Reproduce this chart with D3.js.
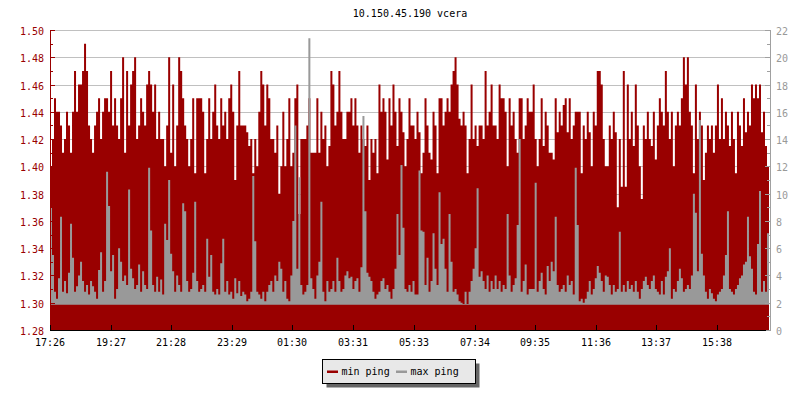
<!DOCTYPE html>
<html><head><meta charset="utf-8">
<script src="https://cdn.jsdelivr.net/npm/d3@7"></script>
<style>
body{margin:0;background:#fff}
svg{display:block}
text{font-family:"DejaVu Sans Mono","Liberation Mono",monospace;font-size:10px}
</style>
</head><body>
<svg id="chart" width="800" height="400"></svg>
<script>
// ---------------- data ----------------
const title = "10.150.45.190 vcera";
const startLabel = "17:26";
const stepMinutes = 4;
const timeLabels = ["17:26","19:27","21:28","23:29","01:30","03:31","05:33","07:34","09:35","11:36","13:37","15:38"];
const leftTicks = [1.28,1.30,1.32,1.34,1.36,1.38,1.40,1.42,1.44,1.46,1.48,1.50];
const rightTicks = [0,2,4,6,8,10,12,14,16,18,20,22];
const seriesNames = ["min ping","max ping"];

const minPing = [
1.40,1.42,1.45,1.44,1.44,1.43,1.41,1.42,1.44,1.43,
1.41,1.44,1.47,1.44,1.46,1.46,1.47,1.49,1.47,1.43,
1.42,1.41,1.43,1.44,1.45,1.42,1.44,1.45,1.45,1.44,
1.47,1.43,1.45,1.43,1.42,1.45,1.48,1.41,1.47,1.43,
1.46,1.47,1.48,1.42,1.43,1.45,1.44,1.43,1.46,1.47,
1.46,1.44,1.46,1.42,1.44,1.42,1.42,1.40,1.43,1.48,
1.41,1.46,1.40,1.43,1.48,1.47,1.45,1.43,1.42,1.40,
1.42,1.45,1.395,1.45,1.45,1.45,1.44,1.395,1.42,1.45,
1.42,1.44,1.46,1.43,1.42,1.45,1.43,1.44,1.42,1.45,
1.46,1.44,1.39,1.43,1.47,1.43,1.43,1.43,1.425,1.415,
1.42,1.395,1.42,1.40,1.44,1.47,1.46,1.43,1.46,1.45,
1.42,1.42,1.41,1.43,1.38,1.40,1.44,1.40,1.42,1.45,
1.40,1.41,1.45,1.46,1.365,1.42,1.42,1.42,1.43,1.45,
1.41,1.41,1.41,1.45,1.41,1.44,1.42,1.43,1.40,1.415,
1.47,1.46,1.43,1.44,1.47,1.44,1.42,1.42,1.44,1.44,
1.45,1.43,1.45,1.43,1.41,1.43,1.42,1.415,1.43,1.39,
1.42,1.41,1.42,1.395,1.46,1.44,1.45,1.44,1.405,1.45,
1.43,1.46,1.44,1.415,1.45,1.44,1.425,1.40,1.42,1.45,
1.43,1.43,1.42,1.44,1.425,1.395,1.41,1.45,1.43,1.41,
1.405,1.44,1.43,1.395,1.45,1.45,1.43,1.44,1.45,1.44,
1.46,1.47,1.48,1.46,1.435,1.43,1.44,1.43,1.395,1.42,
1.46,1.42,1.43,1.415,1.43,1.43,1.42,1.47,1.43,1.44,
1.46,1.43,1.43,1.42,1.46,1.45,1.45,1.44,1.40,1.45,
1.43,1.44,1.42,1.41,1.45,1.45,1.42,1.43,1.45,1.44,
1.44,1.46,1.42,1.40,1.42,1.45,1.415,1.44,1.43,1.41,
1.41,1.405,1.45,1.425,1.44,1.43,1.445,1.45,1.425,1.45,
1.42,1.43,1.44,1.44,1.44,1.395,1.43,1.42,1.44,1.425,
1.40,1.44,1.43,1.47,1.47,1.46,1.42,1.40,1.40,1.43,
1.42,1.44,1.425,1.37,1.42,1.385,1.47,1.385,1.46,1.42,
1.44,1.415,1.46,1.43,1.40,1.376,1.43,1.42,1.44,1.42,
1.415,1.44,1.405,1.43,1.45,1.44,1.43,1.47,1.44,1.42,
1.44,1.40,1.43,1.44,1.43,1.45,1.48,1.46,1.48,1.44,
1.43,1.395,1.46,1.42,1.44,1.43,1.39,1.41,1.43,1.42,
1.43,1.41,1.43,1.46,1.42,1.45,1.42,1.44,1.43,1.415,
1.44,1.42,1.395,1.44,1.43,1.415,1.45,1.425,1.44,1.43,
1.46,1.45,1.46,1.45,1.46,1.425,1.44,1.415,1.40
];

const maxPing = [
9.0,5.5,2.8,2.3,3.8,8.3,2.8,3.6,2.7,4.2,
7.8,5.3,2.8,3.2,4.0,5.0,3.6,2.8,3.3,2.6,
3.6,3.2,2.8,2.3,4.4,5.7,2.8,3.6,11.6,9.1,
4.3,5.5,2.3,3.0,6.0,5.0,3.6,4.0,3.3,10.3,
4.5,3.8,3.0,3.3,4.8,2.8,4.3,3.3,3.0,11.9,
7.3,3.3,2.8,3.9,2.8,3.7,2.6,7.8,6.6,11.0,
5.6,4.3,2.8,4.0,3.3,2.8,9.3,8.7,3.6,2.8,
3.0,4.2,9.4,3.6,2.8,3.0,3.3,2.8,6.7,3.9,
5.5,2.8,2.6,3.0,2.6,4.9,6.7,2.8,3.6,2.6,
2.8,2.3,3.8,2.7,3.6,2.5,2.8,2.6,2.1,2.3,
2.8,11.3,6.5,2.8,2.6,2.3,2.8,2.1,2.8,3.3,
3.6,2.8,4.0,3.6,5.0,4.5,2.8,3.6,2.3,2.1,
4.0,8.0,15.0,4.5,11.2,3.3,2.6,2.8,3.3,21.4,
3.8,3.0,2.3,4.0,5.0,9.4,2.8,2.1,3.6,2.8,
3.0,3.6,2.8,5.3,3.6,2.8,3.0,4.0,4.3,3.8,
3.9,3.0,3.6,3.8,2.8,4.6,15.7,8.7,4.2,3.9,
3.6,2.8,2.3,2.6,2.8,3.6,3.8,3.0,3.3,2.8,
2.3,3.0,4.5,8.5,5.5,12.1,7.5,3.0,2.8,3.3,
2.8,3.6,2.6,2.6,11.7,7.3,7.2,3.3,5.3,2.8,
3.6,7.1,4.5,3.3,10.1,6.3,6.7,4.5,2.8,8.5,
5.0,2.8,3.0,2.6,2.1,2.0,1.9,2.8,1.9,2.8,
3.6,4.5,6.0,10.4,3.9,4.3,3.6,3.0,4.0,2.8,
3.6,3.0,4.0,3.0,3.6,2.8,3.3,3.0,8.5,4.0,
2.8,3.3,3.8,7.7,14.0,2.8,3.6,4.8,2.6,3.0,
3.0,3.0,10.8,2.8,3.6,4.2,3.0,2.6,4.7,3.6,
5.0,4.3,8.3,3.3,2.8,3.0,3.3,2.8,4.0,3.3,
3.6,2.6,11.9,7.7,2.1,2.3,2.0,2.3,2.8,3.6,
2.6,3.0,3.8,4.7,4.2,3.6,2.8,4.0,3.9,3.3,
2.6,3.3,2.8,3.0,7.2,2.8,3.3,2.8,3.6,3.0,
3.3,2.8,3.6,2.8,2.3,3.0,3.6,3.9,3.3,3.0,
3.6,4.0,3.0,2.8,2.6,3.6,2.6,3.9,4.3,6.0,
2.3,3.0,2.8,3.6,4.5,3.8,2.8,3.0,3.3,3.0,
4.0,10.0,8.6,4.3,15.4,5.6,4.0,2.8,2.3,3.0,
2.7,2.3,2.1,2.6,2.8,3.0,4.0,5.5,8.7,3.0,
2.8,2.6,3.0,3.3,3.8,4.0,4.8,5.0,8.3,5.4,
4.5,2.8,2.6,6.3,10.2,2.8,3.6,2.8,7.1
];

// ---------------- styles ----------------
const RED = "#990000", GRAY = "#999999", GRID = "#c0c0c0";
const PL = 50, PR = 770, PT = 30, PB = 330, DATA_R = 769;
const MAX_BASE = 1.85; // lower edge of the max-ping band

const svg = d3.select("#chart");
const parse = d3.timeParse("%H:%M");
const t0 = parse(startLabel);
const N = minPing.length;
const tEnd = d3.timeMinute.offset(t0, N * stepMinutes);
const timeOf = i => d3.timeMinute.offset(t0, i * stepMinutes);
const labelTime = s => { let t = parse(s); if (t < t0) t = d3.timeDay.offset(t, 1); return t; };

const x = d3.scaleTime().domain([t0, tEnd]).range([PL, DATA_R]);
const yL = d3.scaleLinear().domain([leftTicks[0], leftTicks[leftTicks.length-1]]).range([PB, PT]);
const yR = d3.scaleLinear().domain([rightTicks[0], rightTicks[rightTicks.length-1]]).range([PB, PT]);
const r = v => Math.round(v) + 0.5;

// title
svg.append("text").attr("x", (PL+PR)/2).attr("y", 17).attr("text-anchor","middle")
  .attr("fill","#000").text(title);

// gridlines
svg.append("g").selectAll("line").data(leftTicks.slice(1)).join("line")
  .attr("x1", PL).attr("x2", PR)
  .attr("y1", d => r(yL(d))).attr("y2", d => r(yL(d)))
  .attr("stroke", GRID).attr("stroke-width", 1);

// series
const pts = (arr) => { const p = arr.map((v,i) => [timeOf(i), v]); p.push([tEnd, arr[arr.length-1]]); return p; };

svg.append("path").datum(pts(minPing))
  .attr("d", d3.area().curve(d3.curveStepAfter)
    .x(d => x(d[0])).y0(PB).y1(d => yL(d[1])))
  .attr("fill", RED);

svg.append("path").datum(pts(maxPing))
  .attr("d", d3.area().curve(d3.curveStepAfter)
    .x(d => x(d[0])).y0(yR(MAX_BASE)).y1(d => yR(d[1])))
  .attr("fill", GRAY);

// left axis
const gl = svg.append("g");
gl.append("line").attr("x1", PL+0.5).attr("x2", PL+0.5).attr("y1", PT).attr("y2", PB+1).attr("stroke", RED);
gl.selectAll(".maj").data(leftTicks).join("line")
  .attr("x1", PL).attr("x2", PL+5).attr("y1", d => r(yL(d))).attr("y2", d => r(yL(d))).attr("stroke", RED);
const leftMinor = d3.pairs(leftTicks).map(([a,b]) => (a+b)/2);
gl.selectAll(".min").data(leftMinor).join("line")
  .attr("x1", PL).attr("x2", PL+3).attr("y1", d => r(yL(d))).attr("y2", d => r(yL(d))).attr("stroke", RED);
gl.selectAll("text").data(leftTicks).join("text")
  .attr("x", 44).attr("y", d => Math.round(yL(d)) + 4.5).attr("text-anchor","end")
  .attr("fill", RED).text(d => d.toFixed(2));

// right axis
const gr = svg.append("g");
gr.append("line").attr("x1", PR+0.5).attr("x2", PR+0.5).attr("y1", PT).attr("y2", PB+1).attr("stroke", "#a0a0a0");
gr.selectAll(".maj").data(rightTicks).join("line")
  .attr("x1", PR-5).attr("x2", PR+1).attr("y1", d => r(yR(d))).attr("y2", d => r(yR(d))).attr("stroke", "#a0a0a0");
const rightMinor = d3.pairs(rightTicks).map(([a,b]) => (a+b)/2);
gr.selectAll(".min").data(rightMinor).join("line")
  .attr("x1", PR-3).attr("x2", PR+1).attr("y1", d => r(yR(d))).attr("y2", d => r(yR(d))).attr("stroke", "#a0a0a0");
gr.selectAll("text").data(rightTicks).join("text")
  .attr("x", 776).attr("y", d => Math.round(yR(d)) + 4.5).attr("text-anchor","start")
  .attr("fill", GRAY).text(d => d);

// bottom axis
const gb = svg.append("g");
gb.append("line").attr("x1", PL).attr("x2", PR-4).attr("y1", PB+0.5).attr("y2", PB+0.5).attr("stroke", "#000");
gb.selectAll("line.t").data(timeLabels).join("line").attr("class","t")
  .attr("x1", d => r(x(labelTime(d)))).attr("x2", d => r(x(labelTime(d))))
  .attr("y1", PB-5).attr("y2", PB+1).attr("stroke", "#000");
gb.selectAll("text").data(timeLabels).join("text")
  .attr("x", d => Math.round(x(labelTime(d)))).attr("y", 346).attr("text-anchor","middle")
  .attr("fill", "#000").text(d => d);

// legend
const lg = svg.append("g");
lg.append("rect").attr("x", 326.5).attr("y", 363.5).attr("width", 153).attr("height", 24).attr("fill", "#666");
lg.append("rect").attr("x", 322.5).attr("y", 359.5).attr("width", 153).attr("height", 24)
  .attr("fill", "#e8e8e8").attr("stroke", "#000");
const items = [{name: seriesNames[0], color: RED, x: 327}, {name: seriesNames[1], color: GRAY, x: 396}];
items.forEach(it => {
  lg.append("rect").attr("x", it.x).attr("y", 370.5).attr("width", 11).attr("height", 2.5).attr("fill", it.color);
  lg.append("text").attr("x", it.x + 14.5).attr("y", 375).attr("fill", "#000").text(it.name);
});
</script>
</body></html>
